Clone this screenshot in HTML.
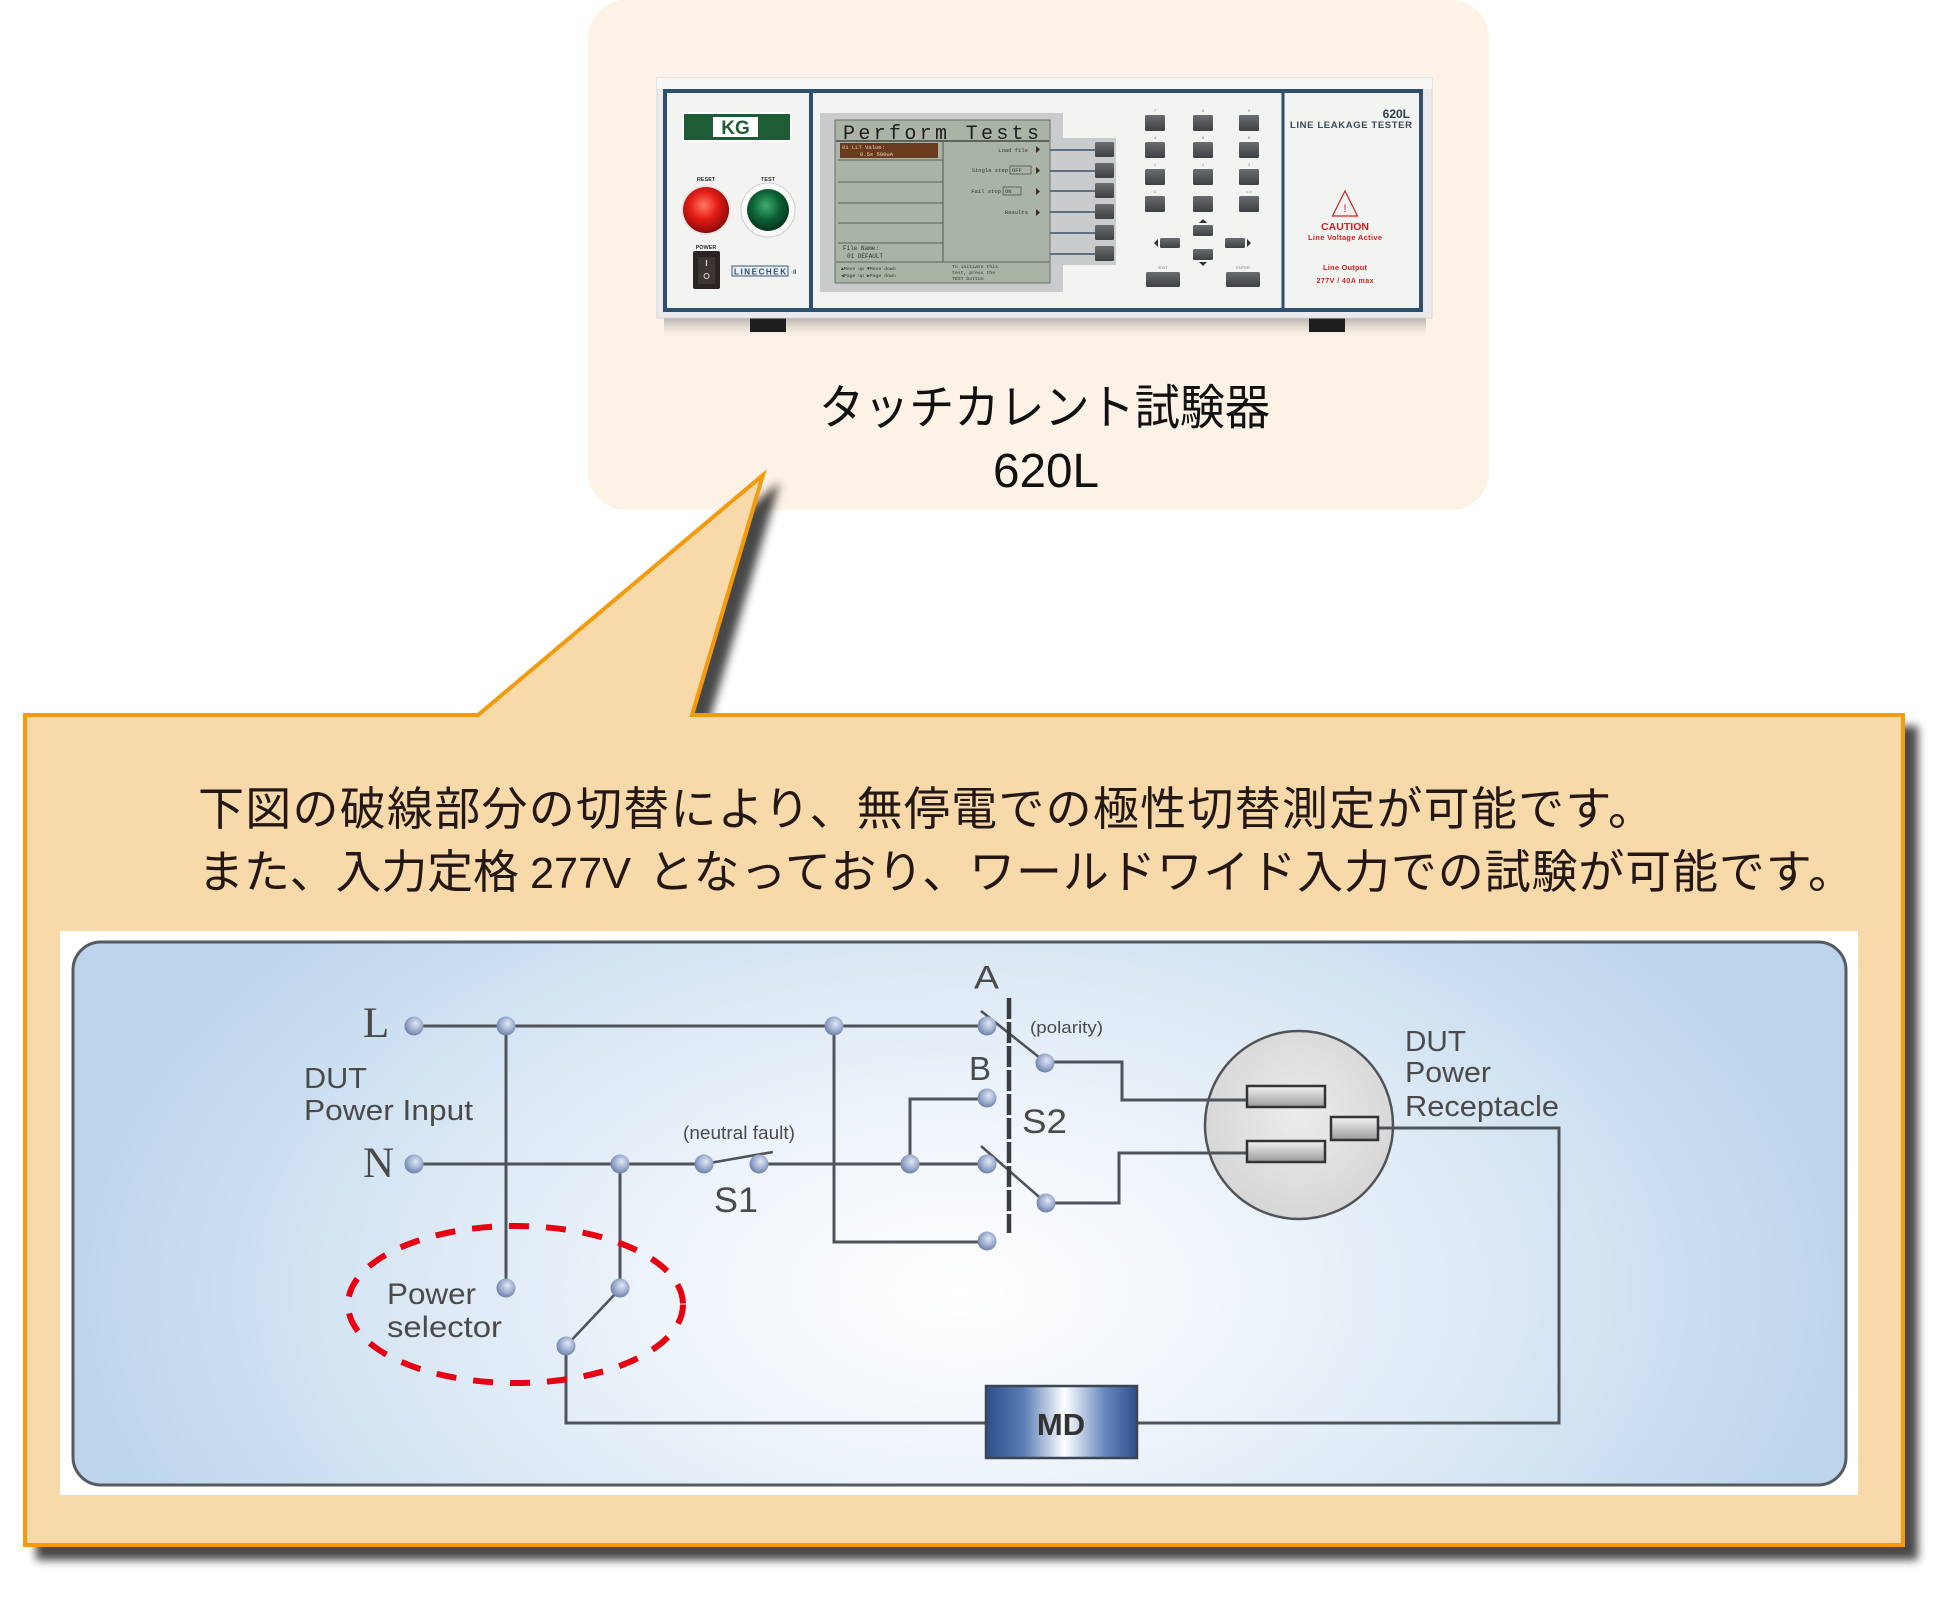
<!DOCTYPE html>
<html><head><meta charset="utf-8">
<style>
html,body{margin:0;padding:0;background:#fff;}
svg{display:block;}
text{font-family:"Liberation Sans","Noto Sans CJK JP",sans-serif;}
.mono{font-family:"Liberation Mono",monospace;}
</style></head><body>
<svg width="1960" height="1600" viewBox="0 0 1960 1600" xmlns="http://www.w3.org/2000/svg">
<defs>
  <filter id="sh" x="-3%" y="-5%" width="108%" height="115%">
    <feGaussianBlur in="SourceAlpha" stdDeviation="4.5"/>
    <feOffset dx="13" dy="13" result="b"/>
    <feFlood flood-color="#000" flood-opacity="0.72"/>
    <feComposite in2="b" operator="in"/>
    <feMerge><feMergeNode/><feMergeNode in="SourceGraphic"/></feMerge>
  </filter>
  <radialGradient id="panel" gradientUnits="userSpaceOnUse" cx="960" cy="1290" r="900" gradientTransform="translate(0 516) scale(1 0.6)">
    <stop offset="0" stop-color="#ffffff"/>
    <stop offset="0.25" stop-color="#f3f7fc"/>
    <stop offset="0.6" stop-color="#dce9f5"/>
    <stop offset="1" stop-color="#bcd5ec"/>
  </radialGradient>
  <radialGradient id="ct" cx="0.55" cy="0.42" r="0.6" fx="0.6" fy="0.35">
    <stop offset="0" stop-color="#e2e8f4"/>
    <stop offset="0.55" stop-color="#a3b3d4"/>
    <stop offset="1" stop-color="#6a7da6"/>
  </radialGradient>
  <linearGradient id="slot" x1="0" y1="0" x2="0" y2="1">
    <stop offset="0" stop-color="#f4f4f4"/>
    <stop offset="1" stop-color="#9a9a9a"/>
  </linearGradient>
  <linearGradient id="md" x1="0" y1="0" x2="1" y2="0">
    <stop offset="0" stop-color="#2c4f8c"/>
    <stop offset="0.25" stop-color="#5b7db4"/>
    <stop offset="0.52" stop-color="#ffffff"/>
    <stop offset="0.78" stop-color="#6a8bc0"/>
    <stop offset="1" stop-color="#2c4f8c"/>
  </linearGradient>
  <radialGradient id="rc" cx="0.5" cy="0.45" r="0.55">
    <stop offset="0" stop-color="#ececec"/>
    <stop offset="1" stop-color="#d6d6d6"/>
  </radialGradient>
  <radialGradient id="red" cx="0.45" cy="0.4" r="0.6">
    <stop offset="0" stop-color="#ff7a66"/>
    <stop offset="0.5" stop-color="#e41d16"/>
    <stop offset="1" stop-color="#8c0a08"/>
  </radialGradient>
  <radialGradient id="grn" cx="0.45" cy="0.4" r="0.6">
    <stop offset="0" stop-color="#3fae72"/>
    <stop offset="0.55" stop-color="#0d6236"/>
    <stop offset="1" stop-color="#05331c"/>
  </radialGradient>
  <linearGradient id="dsh" x1="0" y1="0" x2="0" y2="1">
    <stop offset="0" stop-color="#8a8a8a" stop-opacity="0.75"/>
    <stop offset="1" stop-color="#fdf2e6" stop-opacity="0"/>
  </linearGradient>
  <linearGradient id="key" x1="0" y1="0" x2="0" y2="1">
    <stop offset="0" stop-color="#6a6d70"/>
    <stop offset="1" stop-color="#3e4144"/>
  </linearGradient>
</defs>

<!-- top box -->
<rect x="588" y="0" width="901" height="510" rx="38" fill="#fdf2e6"/>

<!-- device -->
<rect x="664" y="316" width="762" height="24" fill="url(#dsh)"/>
<rect x="750" y="316" width="36" height="16" fill="#1e1e1e"/>
<rect x="1309" y="316" width="36" height="16" fill="#1e1e1e"/>
<rect x="657" y="78" width="775" height="240" fill="#ebebeb" stroke="#d4d4d4" stroke-width="1"/>
<rect x="657" y="78" width="775" height="11" fill="#f7f7f7"/>
<rect x="665" y="91" width="756" height="219" fill="#f3f3f1" stroke="#2e4f6e" stroke-width="4"/>
<line x1="811" y1="91" x2="811" y2="310" stroke="#2e4f6e" stroke-width="4"/>
<line x1="1283" y1="91" x2="1283" y2="310" stroke="#2e4f6e" stroke-width="3"/>

<!-- left panel -->
<rect x="682" y="112" width="110" height="30" fill="#ffffff"/>
<rect x="684" y="114" width="106" height="26" fill="#1d5c34"/>
<rect x="713" y="117" width="45" height="20" fill="#ffffff"/>
<text x="735.5" y="134" font-size="19" font-weight="bold" fill="#1d5c34" text-anchor="middle">KG</text>
<text x="706" y="181" font-size="5.5" font-weight="bold" fill="#333" text-anchor="middle">RESET</text>
<text x="768" y="181" font-size="5.5" font-weight="bold" fill="#333" text-anchor="middle">TEST</text>
<circle cx="706" cy="210" r="25" fill="#e6e6e6"/>
<circle cx="706" cy="210" r="23" fill="url(#red)"/>
<circle cx="768" cy="210" r="27" fill="#fafafa" stroke="#cfcfcf" stroke-width="1"/>
<circle cx="768" cy="210" r="21" fill="url(#grn)"/>
<text x="706" y="249" font-size="5.5" font-weight="bold" fill="#333" text-anchor="middle">POWER</text>
<rect x="693" y="251" width="27" height="38" rx="2" fill="#2b2422"/>
<rect x="698" y="257" width="17" height="27" fill="#3c3532"/>
<line x1="706.5" y1="260" x2="706.5" y2="266" stroke="#ddd" stroke-width="1.2"/>
<circle cx="706.5" cy="276" r="2.5" fill="none" stroke="#ddd" stroke-width="1"/>
<rect x="732" y="266" width="56" height="10" fill="#e8edf3" stroke="#3a5a7a" stroke-width="1"/>
<text x="734" y="274.5" font-size="8" font-weight="bold" fill="#2e4f6e" textLength="52">LINECHEK</text>
<text x="791" y="274" font-size="6" font-weight="bold" fill="#2e4f6e">·II</text>

<!-- screen -->
<rect x="820" y="113" width="243" height="179" fill="#c9cbcc"/>
<rect x="1060" y="138" width="56" height="127" fill="#c9cbcc"/>
<rect x="835" y="120" width="215" height="163" fill="#a9b4a7" stroke="#6a6f68" stroke-width="1"/>
<text class="mono" x="843" y="139" font-size="20" fill="#1e1e1e" textLength="196">Perform Tests</text>
<line x1="836" y1="141" x2="1049" y2="141" stroke="#333" stroke-width="1.2"/>
<line x1="943" y1="141" x2="943" y2="262" stroke="#555" stroke-width="1"/>
<rect x="840" y="143" width="98" height="15" fill="#6a3a1c"/>
<text class="mono" x="842" y="149" font-size="5.5" fill="#e4d6c0">01 LLT    Value:</text>
<text class="mono" x="860" y="156" font-size="5.5" fill="#e4d6c0">0.5s     500uA</text>
<g stroke="#5a625a" stroke-width="1">
  <line x1="838" y1="160" x2="943" y2="160"/>
  <line x1="838" y1="182" x2="943" y2="182"/>
  <line x1="838" y1="203" x2="943" y2="203"/>
  <line x1="838" y1="223" x2="943" y2="223"/>
  <line x1="838" y1="243" x2="943" y2="243"/>
  <line x1="836" y1="262" x2="1049" y2="262"/>
</g>
<text class="mono" x="843" y="250" font-size="6" fill="#333">File Name:</text>
<text class="mono" x="847" y="258" font-size="6" fill="#333">01  DEFAULT</text>
<text class="mono" x="841" y="270" font-size="4.8" fill="#333">▲Move up ▼Move down</text>
<text class="mono" x="841" y="277" font-size="4.8" fill="#333">◀Page up ▶Page down</text>
<text class="mono" x="952" y="268" font-size="4.8" fill="#333">To initiate this</text>
<text class="mono" x="952" y="274" font-size="4.8" fill="#333">test, press the</text>
<text class="mono" x="952" y="280" font-size="4.8" fill="#333">TEST button</text>
<g class="mono" font-size="5.5" fill="#333">
  <text class="mono" x="1028" y="152" text-anchor="end">Load file</text>
  <text class="mono" x="1008" y="172" text-anchor="end">Single step</text>
  <text class="mono" x="1001" y="193" text-anchor="end">Fail stop</text>
  <text class="mono" x="1028" y="214" text-anchor="end">Results</text>
  <text class="mono" x="1012" y="172">OFF</text>
  <text class="mono" x="1005" y="193">ON</text>
</g>
<rect x="1010" y="166" width="21" height="8" fill="none" stroke="#444" stroke-width="0.7"/>
<rect x="1003" y="187" width="18" height="8" fill="none" stroke="#444" stroke-width="0.7"/>
<g fill="#3a2a20">
  <path d="M1036,146 L1040,149.5 L1036,153 Z"/>
  <path d="M1036,167 L1040,170.5 L1036,174 Z"/>
  <path d="M1036,188 L1040,191.5 L1036,195 Z"/>
  <path d="M1036,209 L1040,212.5 L1036,216 Z"/>
</g>
<g stroke="#38536e" stroke-width="1.5">
  <line x1="1050" y1="150" x2="1096" y2="150"/>
  <line x1="1050" y1="171" x2="1096" y2="171"/>
  <line x1="1050" y1="191" x2="1096" y2="191"/>
  <line x1="1050" y1="212" x2="1096" y2="212"/>
  <line x1="1050" y1="233" x2="1096" y2="233"/>
  <line x1="1050" y1="254" x2="1096" y2="254"/>
</g>
<g fill="url(#key)">
  <rect x="1095" y="142" width="19" height="15" rx="1.5"/>
  <rect x="1095" y="163" width="19" height="15" rx="1.5"/>
  <rect x="1095" y="183" width="19" height="15" rx="1.5"/>
  <rect x="1095" y="204" width="19" height="15" rx="1.5"/>
  <rect x="1095" y="225" width="19" height="15" rx="1.5"/>
  <rect x="1095" y="246" width="19" height="15" rx="1.5"/>
</g>

<!-- keypad -->
<g fill="url(#key)">
  <rect x="1145" y="115" width="20" height="16" rx="1.5"/><rect x="1193" y="115" width="20" height="16" rx="1.5"/><rect x="1239" y="115" width="20" height="16" rx="1.5"/>
  <rect x="1145" y="142" width="20" height="16" rx="1.5"/><rect x="1193" y="142" width="20" height="16" rx="1.5"/><rect x="1239" y="142" width="20" height="16" rx="1.5"/>
  <rect x="1145" y="169" width="20" height="16" rx="1.5"/><rect x="1193" y="169" width="20" height="16" rx="1.5"/><rect x="1239" y="169" width="20" height="16" rx="1.5"/>
  <rect x="1145" y="196" width="20" height="16" rx="1.5"/><rect x="1193" y="196" width="20" height="16" rx="1.5"/><rect x="1239" y="196" width="20" height="16" rx="1.5"/>
  <rect x="1193" y="225" width="20" height="11" rx="1.5"/>
  <rect x="1193" y="249" width="20" height="11" rx="1.5"/>
  <rect x="1160" y="238" width="20" height="10" rx="1.5"/>
  <rect x="1225" y="238" width="20" height="10" rx="1.5"/>
  <rect x="1146" y="272" width="34" height="15" rx="1.5"/>
  <rect x="1226" y="272" width="34" height="15" rx="1.5"/>
</g>
<g fill="#333">
  <path d="M1199,223 L1203,219 L1207,223 Z"/>
  <path d="M1199,262 L1203,266 L1207,262 Z"/>
  <path d="M1158,239 L1154,243 L1158,247 Z"/>
  <path d="M1247,239 L1251,243 L1247,247 Z"/>
</g>
<g font-size="4" fill="#777" text-anchor="middle">
  <text x="1155" y="112">7</text><text x="1203" y="112">8</text><text x="1249" y="112">9</text>
  <text x="1155" y="139">4</text><text x="1203" y="139">5</text><text x="1249" y="139">6</text>
  <text x="1155" y="166">1</text><text x="1203" y="166">2</text><text x="1249" y="166">3</text>
  <text x="1155" y="193">C</text><text x="1203" y="193">.</text><text x="1249" y="193">&lt;-&gt;</text>
  <text x="1163" y="269">EXIT</text><text x="1243" y="269">ENTER</text>
</g>

<!-- right panel -->
<text x="1410" y="118" font-size="12" font-weight="bold" fill="#2e3e50" text-anchor="end">620L</text>
<text x="1290" y="128" font-size="9.5" font-weight="bold" fill="#3a4a5a" textLength="122">LINE  LEAKAGE  TESTER</text>
<path d="M1345,191 L1357.5,216 L1332.5,216 Z" fill="none" stroke="#d42020" stroke-width="1.2"/>
<text x="1345" y="212" font-size="11" fill="#d42020" text-anchor="middle">!</text>
<text x="1345" y="230" font-size="10.5" font-weight="bold" fill="#d42020" text-anchor="middle" textLength="48">CAUTION</text>
<text x="1345" y="240" font-size="7.5" font-weight="bold" fill="#d42020" text-anchor="middle" textLength="74">Line Voltage Active</text>
<text x="1345" y="270" font-size="7.5" font-weight="bold" fill="#d42020" text-anchor="middle" textLength="44">Line Output</text>
<text x="1345" y="283" font-size="7" font-weight="bold" fill="#d42020" text-anchor="middle" textLength="57">277V / 40A max</text>

<!-- title -->
<text x="819" y="424" font-size="48" fill="#111" textLength="451" lengthAdjust="spacingAndGlyphs">タッチカレント試験器</text>
<text x="993" y="487" font-size="48" fill="#111" textLength="106" lengthAdjust="spacingAndGlyphs">620L</text>

<!-- bubble -->
<path d="M25,715 L478,715 L763,475 L692,715 L1903,715 L1903,1545 L25,1545 Z" fill="#f8d9a9" stroke="#f39a0e" stroke-width="4" stroke-linejoin="miter" filter="url(#sh)"/>

<!-- paragraph -->
<text x="198" y="825" font-size="46" fill="#231815" textLength="1456" lengthAdjust="spacing">下図の破線部分の切替により、無停電での極性切替測定が可能です。</text>
<text x="198" y="888" font-size="46" fill="#231815" textLength="321" lengthAdjust="spacing">また、入力定格</text>
<text x="530" y="888" font-size="44" fill="#231815" textLength="101" lengthAdjust="spacingAndGlyphs">277V</text>
<text x="648" y="888" font-size="46" fill="#231815" textLength="1206" lengthAdjust="spacing">となっており、ワールドワイド入力での試験が可能です。</text>

<!-- diagram panel -->
<rect x="60" y="931" width="1798" height="564" fill="#ffffff"/>
<rect x="73" y="942" width="1773" height="543" rx="28" fill="url(#panel)" stroke="#565b61" stroke-width="3"/>

<!-- receptacle -->
<circle cx="1299" cy="1125" r="94" fill="url(#rc)" stroke="#505458" stroke-width="2.5"/>

<!-- wires -->
<g stroke="#4f545a" stroke-width="3" fill="none" stroke-linejoin="miter">
  <path d="M414,1026 H986"/>
  <path d="M506,1026 V1288"/>
  <path d="M834,1026 V1242 H986"/>
  <path d="M414,1164 H704"/>
  <path d="M759,1164 H986"/>
  <path d="M620,1164 V1288"/>
  <path d="M910,1164 V1099 H986"/>
  <path d="M566,1346 V1423 H986"/>
  <path d="M1137,1423 H1559 V1128 H1378"/>
  <path d="M1045,1062 H1122 V1100 H1247"/>
  <path d="M1046,1203 H1119 V1153 H1247"/>
</g>
<g stroke="#4f545a" stroke-width="2.6" fill="none">
  <path d="M704,1164 L773,1152"/>
  <path d="M566,1346 L616,1293"/>
  <path d="M981,1011 L1045,1062"/>
  <path d="M981,1146 L1046,1203"/>
</g>
<line x1="1009" y1="998" x2="1009" y2="1233" stroke="#3a3d40" stroke-width="4.5" stroke-dasharray="21 3"/>

<!-- slots -->
<rect x="1247" y="1086" width="78" height="21" fill="url(#slot)" stroke="#333" stroke-width="2.5"/>
<rect x="1247" y="1141" width="78" height="21" fill="url(#slot)" stroke="#333" stroke-width="2.5"/>
<rect x="1331" y="1117" width="47" height="23" fill="url(#slot)" stroke="#333" stroke-width="2.5"/>

<!-- MD -->
<rect x="986" y="1386" width="151" height="72" fill="url(#md)" stroke="#3b4650" stroke-width="2.5"/>
<text x="1061" y="1435" font-size="31" font-weight="bold" fill="#333" text-anchor="middle">MD</text>

<!-- contacts -->
<g fill="url(#ct)">
  <circle cx="414" cy="1026" r="9.5"/>
  <circle cx="506" cy="1026" r="9.5"/>
  <circle cx="834" cy="1026" r="9.5"/>
  <circle cx="987" cy="1026" r="9.5"/>
  <circle cx="1045" cy="1063" r="9.5"/>
  <circle cx="987" cy="1098" r="9.5"/>
  <circle cx="987" cy="1164" r="9.5"/>
  <circle cx="1046" cy="1203" r="9.5"/>
  <circle cx="987" cy="1241" r="9.5"/>
  <circle cx="414" cy="1164" r="9.5"/>
  <circle cx="620" cy="1164" r="9.5"/>
  <circle cx="704" cy="1164" r="9.5"/>
  <circle cx="759" cy="1164" r="9.5"/>
  <circle cx="910" cy="1164" r="9.5"/>
  <circle cx="506" cy="1288" r="9.5"/>
  <circle cx="620" cy="1288" r="9.5"/>
  <circle cx="566" cy="1346" r="9.5"/>
</g>

<!-- red dashed ellipse -->
<ellipse cx="515.5" cy="1304.5" rx="167.5" ry="78.5" fill="none" stroke="#e60012" stroke-width="6" stroke-dasharray="20 17"/>

<!-- labels -->
<g fill="#4a4a4a">
  <text x="363" y="1037" font-size="43" font-family="Liberation Serif, serif" style="font-family:'Liberation Serif',serif">L</text>
  <text x="363" y="1177" font-size="43" style="font-family:'Liberation Serif',serif">N</text>
  <text x="304" y="1088" font-size="29" textLength="63" lengthAdjust="spacingAndGlyphs">DUT</text>
  <text x="304" y="1120" font-size="29" textLength="169" lengthAdjust="spacingAndGlyphs">Power Input</text>
  <text x="683" y="1139" font-size="18" textLength="112" lengthAdjust="spacingAndGlyphs">(neutral fault)</text>
  <text x="714" y="1212" font-size="35" textLength="44" lengthAdjust="spacingAndGlyphs">S1</text>
  <text x="387" y="1304" font-size="30" textLength="89" lengthAdjust="spacingAndGlyphs">Power</text>
  <text x="387" y="1337" font-size="30" textLength="115" lengthAdjust="spacingAndGlyphs">selector</text>
  <text x="974" y="988.5" font-size="32" textLength="25" lengthAdjust="spacingAndGlyphs">A</text>
  <text x="969" y="1080" font-size="33" textLength="22" lengthAdjust="spacingAndGlyphs">B</text>
  <text x="1022" y="1133" font-size="34" textLength="45" lengthAdjust="spacingAndGlyphs">S2</text>
  <text x="1030" y="1033" font-size="16.5" textLength="73" lengthAdjust="spacingAndGlyphs">(polarity)</text>
  <text x="1405" y="1051" font-size="29" textLength="61" lengthAdjust="spacingAndGlyphs">DUT</text>
  <text x="1405" y="1082" font-size="29" textLength="86" lengthAdjust="spacingAndGlyphs">Power</text>
  <text x="1405" y="1116" font-size="29" textLength="154" lengthAdjust="spacingAndGlyphs">Receptacle</text>
</g>
</svg>
</body></html>
